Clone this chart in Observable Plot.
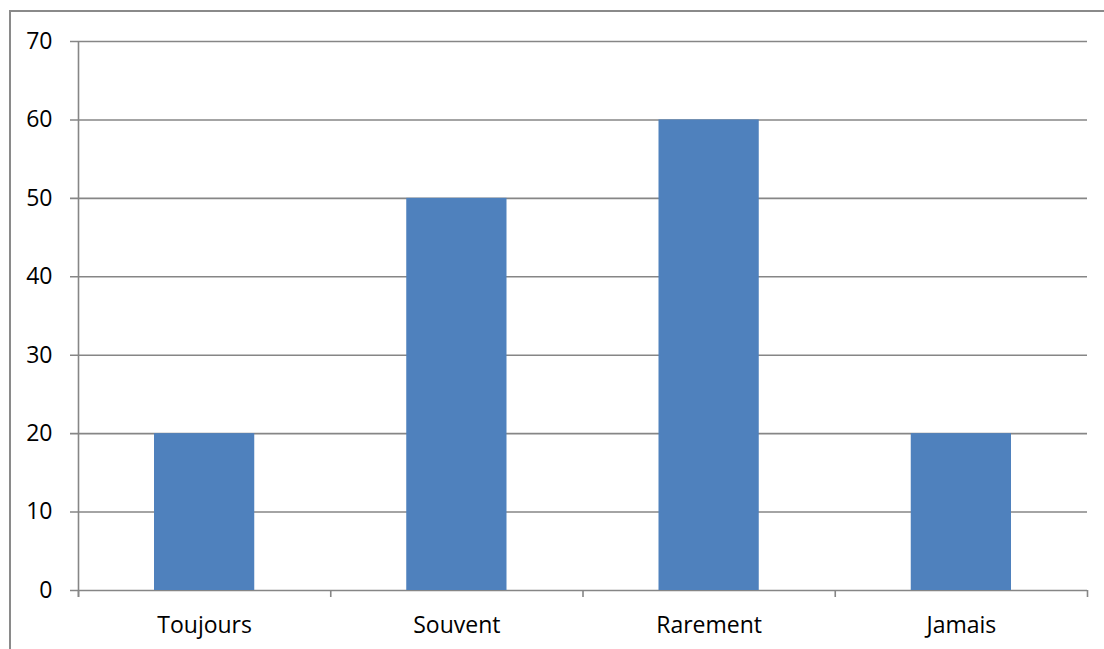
<!DOCTYPE html>
<html>
<head>
<meta charset="utf-8">
<script src="https://cdn.jsdelivr.net/npm/d3@7"></script>
<script src="https://cdn.jsdelivr.net/npm/@observablehq/plot@0.6"></script>
<style>
  html, body { margin: 0; padding: 0; background: #fff; overflow: hidden; }
  #wrap { position: relative; width: 1104px; height: 649px; }
  #border { position: absolute; left: 9px; top: 10px; width: 1200px; height: 800px;
            border: 2px solid #8a8a8a; box-sizing: border-box; pointer-events: none; }
  svg { font-family: "Open Sans", sans-serif; }
</style>
</head>
<body>
<div id="wrap"><div id="border"></div></div>
<script>
const categories = ["Toujours", "Souvent", "Rarement", "Jamais"];
const values = [20, 50, 60, 20];
const yTicks = [0, 10, 20, 30, 40, 50, 60, 70];

const data = categories.map((c, i) => ({ category: c, index: i, value: values[i] }));
const boundaries = d3.range(categories.length + 1);
const gridColor = "#868686";

const chart = Plot.plot({
  width: 1104,
  height: 649,
  marginLeft: 78,
  marginRight: 17,
  marginTop: 41,
  marginBottom: 59,
  style: { fontFamily: "'Open Sans', sans-serif", fontSize: "23px", color: "#000", background: "transparent" },
  x: { type: "linear", domain: [0, categories.length], axis: null },
  y: { domain: [0, 70], axis: null },
  marks: [
    Plot.ruleY(yTicks, { stroke: gridColor, strokeWidth: 1.6, insetLeft: -8 }),
    Plot.rectY(data, {
      x1: "index",
      x2: d => d.index + 1,
      y: "value",
      fill: "#4f81bd",
      insetLeft: 76,
      insetRight: 76
    }),
    Plot.ruleX([0], { y1: 70, y2: 0, stroke: gridColor, strokeWidth: 1.6, insetBottom: -7 }),
    Plot.ruleX(boundaries, { y1: 0, y2: 0, stroke: gridColor, strokeWidth: 1.6, insetBottom: -7 }),
    Plot.text(yTicks, { x: 0, y: d => d, text: d => String(d), textAnchor: "end", dx: -26, fill: "#000", fontSize: 23 }),
    Plot.text(data, { x: d => d.index + 0.5, y: 0, text: "category", dy: 35, fill: "#000", fontSize: 23 })
  ]
});
document.getElementById("wrap").prepend(chart);
</script>
</body>
</html>
